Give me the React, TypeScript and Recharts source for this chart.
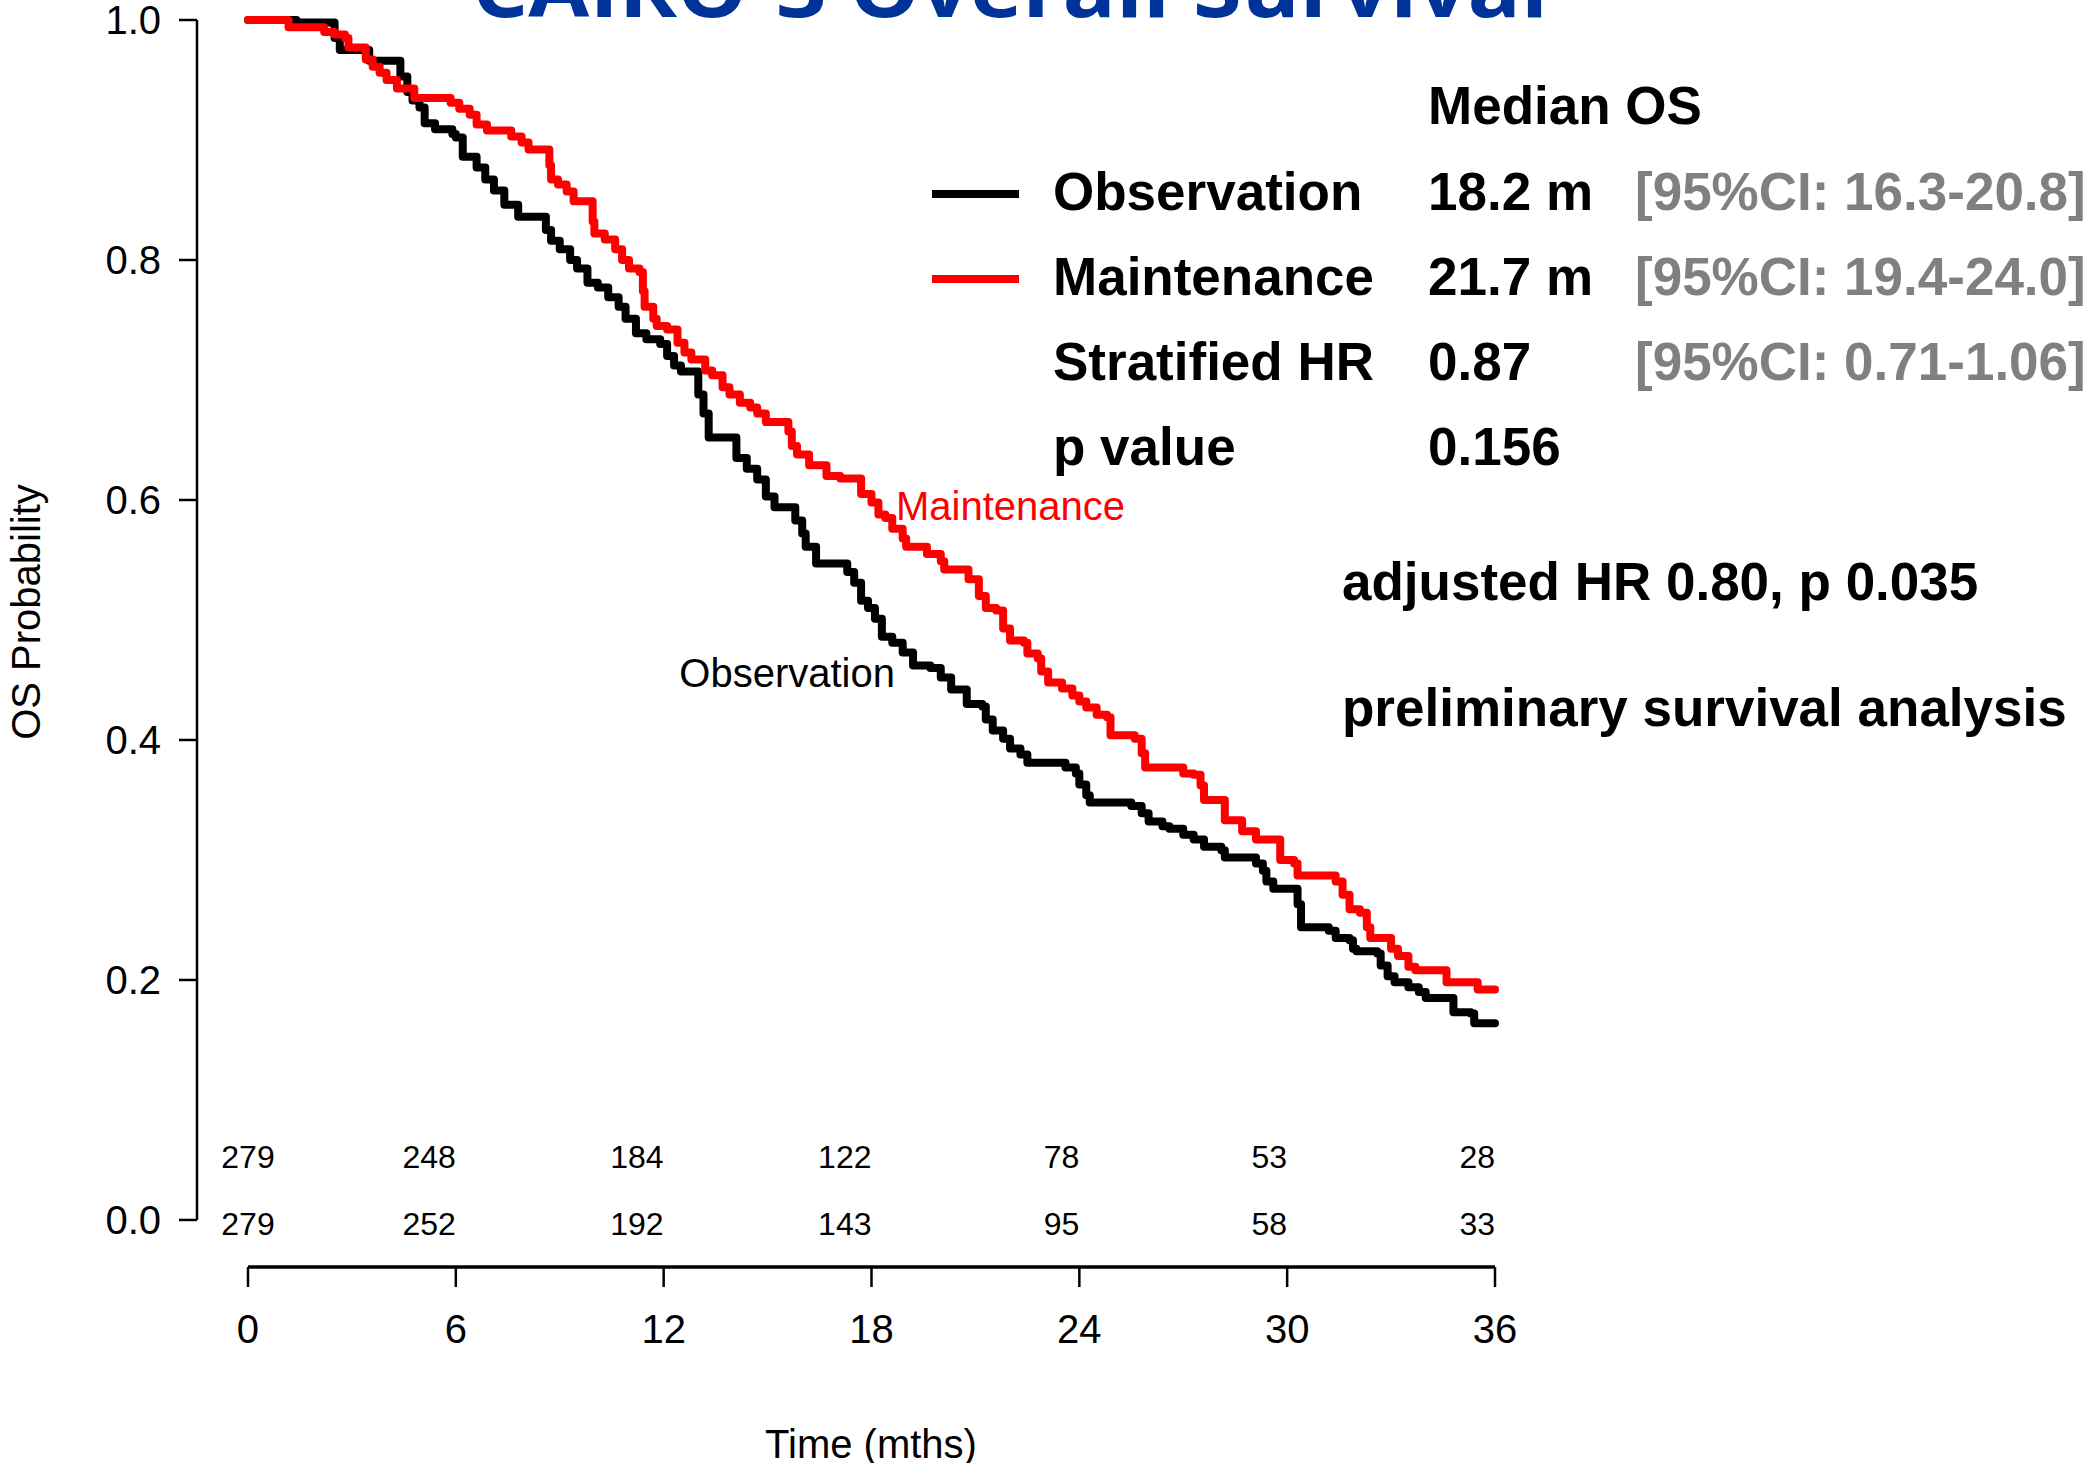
import React from "react";
import {
  LineChart,
  Line,
  XAxis,
  YAxis,
  ReferenceLine,
  ReferenceDot,
} from "recharts";

// Kaplan-Meier estimates (months, survival probability)
const obsTime = [
  0, 1.4, 2.5, 2.65, 3.5, 4.4, 4.6, 4.75, 4.95, 5.1, 5.4, 5.9, 6.0, 6.2, 6.6,
  6.85, 7.1, 7.4, 7.8, 8.6, 8.75, 9.0, 9.3, 9.5, 9.8, 10.1, 10.4, 10.7, 10.9,
  11.2, 11.5, 11.9, 12.1, 12.3, 12.5, 13.0, 13.15, 13.3, 14.1, 14.4, 14.7,
  14.95, 15.2, 15.8, 16.0, 16.1, 16.4, 17.3, 17.5, 17.7, 17.9, 18.1, 18.3,
  18.6, 18.9, 19.2, 19.7, 20.0, 20.3, 20.75, 21.2, 21.3, 21.5, 21.8, 22.0,
  22.3, 22.5, 23.6, 23.9, 24.0, 24.2, 24.3, 25.5, 25.8, 26.0, 26.4, 26.6, 27.0,
  27.3, 27.6, 28.1, 28.2, 29.1, 29.3, 29.4, 29.6, 30.3, 30.4, 31.2, 31.4, 31.8,
  31.9, 32.0, 32.6, 32.7, 32.9, 33.1, 33.5, 33.8, 34.0, 34.8, 35.3, 35.4, 36.0,
];
const obsSurv = [
  1.0, 0.998, 0.985, 0.975, 0.966, 0.953, 0.94, 0.933, 0.927, 0.914, 0.909,
  0.905, 0.902, 0.886, 0.877, 0.867, 0.858, 0.846, 0.836, 0.825, 0.816, 0.809,
  0.8, 0.793, 0.781, 0.777, 0.769, 0.761, 0.751, 0.739, 0.734, 0.73, 0.72,
  0.712, 0.707, 0.688, 0.672, 0.652, 0.635, 0.626, 0.617, 0.603, 0.594, 0.583,
  0.572, 0.561, 0.547, 0.54, 0.531, 0.516, 0.51, 0.501, 0.486, 0.481, 0.473,
  0.462, 0.46, 0.452, 0.442, 0.43, 0.428, 0.417, 0.408, 0.401, 0.393, 0.388,
  0.381, 0.377, 0.372, 0.363, 0.354, 0.348, 0.345, 0.339, 0.332, 0.328, 0.326,
  0.321, 0.317, 0.311, 0.308, 0.302, 0.297, 0.291, 0.282, 0.276, 0.263, 0.244,
  0.241, 0.235, 0.233, 0.226, 0.224, 0.222, 0.212, 0.203, 0.198, 0.194, 0.19,
  0.185, 0.173, 0.172, 0.164, 0.164,
];

const maintTime = [
  0, 1.17, 2.2, 2.5, 2.8, 2.9, 3.4, 3.6, 3.8, 4.0, 4.3, 4.8, 5.85, 6.1, 6.4,
  6.6, 6.9, 7.6, 7.9, 8.1, 8.7, 8.75, 8.95, 9.2, 9.4, 9.95, 10.0, 10.3, 10.6,
  10.8, 11.0, 11.3, 11.4, 11.45, 11.7, 11.8, 12.1, 12.4, 12.6, 12.8, 13.2, 13.4,
  13.7, 13.9, 14.2, 14.5, 14.7, 14.95, 15.6, 15.7, 15.85, 16.2, 16.7, 17.1,
  17.7, 18.0, 18.2, 18.4, 18.6, 18.9, 19.0, 19.6, 20.0, 20.1, 20.8, 21.1, 21.3,
  21.6, 21.8, 22.0, 22.4, 22.5, 22.8, 22.9, 23.1, 23.5, 23.8, 24.0, 24.2, 24.5,
  24.8, 24.9, 25.6, 25.8, 25.9, 27.0, 27.3, 27.5, 27.6, 28.2, 28.7, 29.1, 29.8,
  30.2, 30.3, 31.4, 31.6, 31.8, 32.1, 32.3, 32.4, 33.0, 33.2, 33.5, 33.7, 34.6,
  35.5, 36.0,
];
const maintSurv = [
  1.0, 0.994, 0.99, 0.988, 0.985, 0.977, 0.967, 0.961, 0.956, 0.95, 0.943,
  0.935, 0.931, 0.926, 0.921, 0.913, 0.908, 0.903, 0.898, 0.892, 0.879, 0.867,
  0.863, 0.857, 0.849, 0.832, 0.822, 0.817, 0.809, 0.8, 0.793, 0.79, 0.774,
  0.761, 0.751, 0.745, 0.742, 0.731, 0.723, 0.717, 0.708, 0.704, 0.694, 0.688,
  0.681, 0.677, 0.672, 0.665, 0.657, 0.645, 0.638, 0.629, 0.62, 0.618, 0.605,
  0.598, 0.588, 0.585, 0.576, 0.568, 0.561, 0.555, 0.549, 0.542, 0.534, 0.52,
  0.51, 0.508, 0.493, 0.483, 0.481, 0.472, 0.468, 0.457, 0.448, 0.443, 0.437,
  0.432, 0.427, 0.421, 0.419, 0.404, 0.401, 0.389, 0.377, 0.372, 0.371, 0.362,
  0.35, 0.333, 0.324, 0.317, 0.3, 0.297, 0.287, 0.282, 0.271, 0.259, 0.256,
  0.244, 0.235, 0.226, 0.22, 0.211, 0.208, 0.198, 0.192, 0.192,
];

// numbers at risk
const riskMonths = [0, 6, 12, 18, 24, 30, 36];
const riskObservation = [279, 248, 184, 122, 78, 53, 28];
const riskMaintenance = [279, 252, 192, 143, 95, 58, 33];

const xTicks = [0, 6, 12, 18, 24, 30, 36];
const yTicks = [0, 0.2, 0.4, 0.6, 0.8, 1.0];

const legendRows = [
  { name: "Observation", median: "18.2 m", ci: "[95%CI: 16.3-20.8]", color: "#000000" },
  { name: "Maintenance", median: "21.7 m", ci: "[95%CI: 19.4-24.0]", color: "#ff0000" },
  { name: "Stratified HR", median: "0.87", ci: "[95%CI: 0.71-1.06]", color: null },
  { name: "p value", median: "0.156", ci: "", color: null },
];

const C = {
  obs: "#000000",
  maint: "#ff0000",
  title: "#003399",
  grey: "#808080",
};

// axis geometry (R-style offset axes)
const X_MIN = -1.472;
const Y_MIN = -0.0392;
const RISK_ROW_OBS = 0.0525;
const RISK_ROW_MAINT = -0.003;

const FONT = '"Liberation Sans", Arial, sans-serif';

const obsData = obsTime.map((t, i) => ({ t, s: obsSurv[i] }));
const maintData = maintTime.map((t, i) => ({ t, s: maintSurv[i] }));

function Overlay() {
  const rowY = [210, 295, 380, 465];
  return (
    <svg
      width={2098}
      height={1463}
      style={{ position: "absolute", left: 0, top: 0, pointerEvents: "none" }}
    >
      <text
        x={472}
        y={17}
        fontSize={80}
        fontWeight={700}
        fill={C.title}
        fontFamily='"Open Sans", sans-serif'
        textLength={1076}
        lengthAdjust="spacingAndGlyphs"
      >
        CAIRO-3 Overall Survival
      </text>
      <text
        transform="translate(40, 612) rotate(-90)"
        textAnchor="middle"
        fontSize={40}
        fill="#000"
        fontFamily={FONT}
      >
        OS Probability
      </text>
      <text x={871} y={1458} textAnchor="middle" fontSize={40} fill="#000" fontFamily={FONT}>
        Time (mths)
      </text>
      <text x={896} y={520} fontSize={40} fill={C.maint} fontFamily={FONT}>
        Maintenance
      </text>
      <text x={895} y={687} textAnchor="end" fontSize={40} fill={C.obs} fontFamily={FONT}>
        Observation
      </text>
      <g fontFamily={FONT} fontWeight={700} fontSize={53}>
        <text x={1428} y={124} fill="#000">Median OS</text>
        {legendRows.map((r, i) => (
          <g key={r.name}>
            {r.color && (
              <line x1={932} x2={1019} y1={rowY[i] - 16} y2={rowY[i] - 16} stroke={r.color} strokeWidth={8} />
            )}
            <text x={1053} y={rowY[i]} fill="#000">{r.name}</text>
            <text x={1428} y={rowY[i]} fill="#000">{r.median}</text>
            {r.ci && (
              <text x={1635} y={rowY[i]} fill={C.grey}>{r.ci}</text>
            )}
          </g>
        ))}
        <text x={1342} y={600} fill="#000">adjusted HR 0.80, p 0.035</text>
        <text x={1342} y={726} fill="#000">preliminary survival analysis</text>
      </g>
    </svg>
  );
}

export default function App() {
  const axisText = { fontSize: 40, fill: "#000", fontFamily: FONT };
  return (
    <div
      style={{
        position: "absolute",
        left: 0,
        top: 0,
        width: 2098,
        height: 1463,
        background: "#fff",
        fontFamily: FONT,
        overflow: "hidden",
      }}
    >
      <LineChart
        width={2098}
        height={1463}
        margin={{ top: 20, right: 603, bottom: 0, left: 0 }}
      >
        <XAxis
          dataKey="t"
          type="number"
          domain={[X_MIN, 36]}
          ticks={xTicks}
          interval={0}
          height={196}
          axisLine={false}
          tickLine={{ stroke: "#000", strokeWidth: 2.5 }}
          tickSize={20}
          tickMargin={28}
          tick={axisText}
        />
        <YAxis
          type="number"
          domain={[Y_MIN, 1]}
          ticks={yTicks}
          interval={0}
          width={197}
          axisLine={false}
          tickLine={{ stroke: "#000", strokeWidth: 2.5 }}
          tickSize={18}
          tickMargin={18}
          tick={axisText}
          tickFormatter={(v: number) => v.toFixed(1)}
        />
        <ReferenceLine
          segment={[{ x: X_MIN, y: 0 }, { x: X_MIN, y: 1 }]}
          stroke="#000"
          strokeWidth={2.5}
          ifOverflow="visible"
        />
        <ReferenceLine
          segment={[{ x: 0, y: Y_MIN }, { x: 36, y: Y_MIN }]}
          stroke="#000"
          strokeWidth={3.5}
          ifOverflow="visible"
        />
        {riskMonths.map((m, i) => (
          <ReferenceDot
            key={`ro${m}`}
            x={m}
            y={RISK_ROW_OBS}
            r={0}
            fill="none"
            stroke="none"
            ifOverflow="visible"
            label={{
              value: String(riskObservation[i]),
              position: i === 0 ? "center" : "left",
              offset: 0,
              fontSize: 32,
              fill: "#000",
            }}
          />
        ))}
        {riskMonths.map((m, i) => (
          <ReferenceDot
            key={`rm${m}`}
            x={m}
            y={RISK_ROW_MAINT}
            r={0}
            fill="none"
            stroke="none"
            ifOverflow="visible"
            label={{
              value: String(riskMaintenance[i]),
              position: i === 0 ? "center" : "left",
              offset: 0,
              fontSize: 32,
              fill: "#000",
            }}
          />
        ))}
        <Line
          data={obsData}
          dataKey="s"
          type="stepAfter"
          stroke={C.obs}
          strokeWidth={8}
          strokeLinecap="round"
          strokeLinejoin="round"
          dot={false}
          activeDot={false}
          isAnimationActive={false}
        />
        <Line
          data={maintData}
          dataKey="s"
          type="stepAfter"
          stroke={C.maint}
          strokeWidth={8}
          strokeLinecap="round"
          strokeLinejoin="round"
          dot={false}
          activeDot={false}
          isAnimationActive={false}
        />
      </LineChart>
      <Overlay />
    </div>
  );
}
